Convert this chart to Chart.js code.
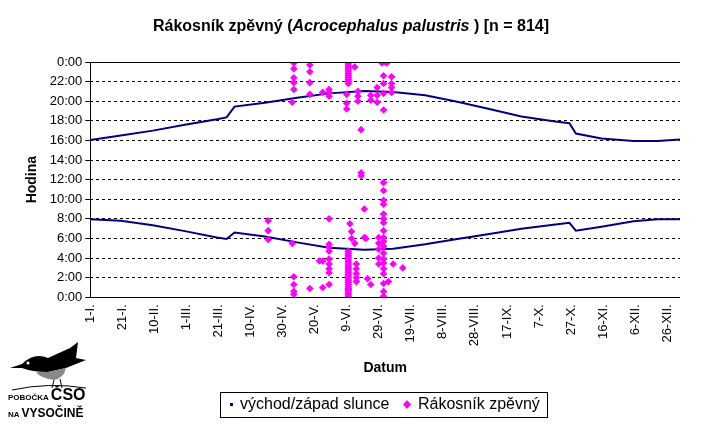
<!DOCTYPE html>
<html><head><meta charset="utf-8">
<script src="https://cdn.jsdelivr.net/npm/chart.js@4"></script>
<style>body{margin:0;background:#fff;font-family:"Liberation Sans",Arial,sans-serif}
#w{position:relative;width:702px;height:424px}
#logo{position:absolute;left:8px;top:338px;width:80px;height:54px}
#lt{position:absolute;left:8px;top:388px;font-weight:bold;line-height:14px;color:#000;white-space:nowrap}
</style></head><body>
<div id="w"><canvas id="c" width="702" height="424"></canvas>
<canvas id="logo" width="80" height="54"></canvas>
<div id="lt"><span style="font-size:8px">POBOČKA </span><span style="font-size:16px">ČSO</span><br><span style="font-size:8px">NA </span><span style="font-size:12px">VYSOČINĚ</span></div>
</div>
<script>
const xTickDays=[1,21,41,61,81,101,121,141,161,181,201,221,241,261,281,301,321,341,361];
const xTickLabels=["1-I.","21-I.","10-II.","1-III.","21-III.","10-IV.","30-IV.","20-V.","9-VI.","29-VI.","19-VII.","8-VIII.","28-VIII.","17-IX.","7-X.","27-X.","16-XI.","6-XII.","26-XII."];
const sunsetDays=[1,20,40,60,80,86,91,110,130,150,172,190,210,230,250,270,290,300,304,320,340,355,369];
const sunsetHours=[16.05,16.5,17.0,17.6,18.15,18.35,19.45,19.85,20.35,20.8,21.05,20.95,20.6,19.95,19.2,18.45,17.95,17.75,16.7,16.2,15.95,15.95,16.1];
const sunriseDays=[1,20,40,60,80,86,91,110,130,150,172,190,210,230,250,270,290,300,304,320,340,355,369];
const sunriseHours=[7.95,7.8,7.35,6.75,6.1,5.95,6.6,6.2,5.6,5.05,4.85,4.95,5.4,5.95,6.45,7.0,7.4,7.6,6.8,7.2,7.75,7.95,7.95];
const birdDays=[112,112,112,128,128,128,128,128,127,128,128,128,128,127,138,138,138,138,138,146,146,146,144,150,150,150,150,150,150,150,150,150,150,150,150,
162,162,162,162,162,162,162,162,162,162,162,162,162,161,161,161,
162,162,162,162,162,162,162,162,162,162,162,162,162,162,162,162,162,162,162,162,162,162,162,162,
163,164,164,166,167,167,167,167,167,166,168,168,168,170,170,170,172,172,173,176,176,174,176,180,180,180,183,184,
184,184,184,184,184,184,184,184,184,184,184,184,184,184,184,184,184,184,184,184,184,184,181,181,181,181,181,
189,189,189,189,190,187,196,185,186];
const birdHours=[7.8,6.8,5.9,23.9,23.3,22.4,21.9,21.2,19.9,2.1,1.3,0.6,0.3,5.5,23.7,23.0,21.9,20.7,0.9,20.9,3.7,1.0,3.7,21.2,20.9,20.5,8.0,5.4,5.1,4.7,3.9,3.4,2.9,2.5,1.3,0.8,
24,23.8,23.6,23.4,23.2,23.0,22.8,22.6,22.4,22.2,22.0,21.8,20.7,19.8,19.2,
4.7,4.5,4.3,4.1,3.9,3.7,3.5,3.3,3.1,2.9,2.7,2.5,2.3,2.1,1.9,1.7,1.5,1.3,1.1,0.9,0.7,0.5,0.3,0.1,
7.5,6.7,6.0,5.5,3.4,2.9,2.4,2.0,1.6,23.5,21.0,20.5,20.0,17.1,12.7,12.4,9.0,6.1,6.0,20.1,20.6,1.9,1.3,21.4,20.6,19.9,23.9,22.6,
21.8,20.8,19.1,11.7,10.9,9.9,9.5,8.5,8.0,7.6,6.8,6.1,5.7,5.2,4.5,3.9,3.5,2.9,2.4,1.4,0.6,0.1,6.1,5.5,4.9,4.0,3.4,
22.5,21.8,21.4,20.9,3.4,1.6,3.0,24,23.9];
const legendLabels=['východ/západ slunce','Rákosník zpěvný'];
const toXY=(d,h)=>d.map((v,i)=>({x:v,y:h[i]}));
const FONT='"Liberation Sans", Arial, sans-serif';
const deco={id:'deco',afterDraw(ch){const g=ch.ctx,a=ch.chartArea;g.save();
 g.strokeStyle='#000';g.lineWidth=1;g.beginPath();
 g.moveTo(Math.round(a.left)+0.5,a.top);g.lineTo(Math.round(a.left)+0.5,a.bottom);
 g.moveTo(a.left,Math.round(a.bottom)+0.5);g.lineTo(a.right,Math.round(a.bottom)+0.5);
 g.moveTo(a.left,Math.round(a.top)+0.5);g.lineTo(a.right,Math.round(a.top)+0.5);g.stroke();
 g.strokeRect(220.5,392.5,327,25);
 g.font='16px '+FONT;g.textBaseline='middle';
 g.fillStyle='#000080';g.fillRect(230,403,3,3);
 g.fillStyle='#000';g.fillText(legendLabels[0],240,405);
 const d=ch.data.datasets[2];g.fillStyle=d.backgroundColor;g.beginPath();g.moveTo(407,400);g.lineTo(411,404.5);g.lineTo(407,409);g.lineTo(403,404.5);g.fill();
 g.fillStyle='#000';g.fillText(legendLabels[1],418,405);
 const parts=[['Rákosník zpěvný (','bold '],['Acrocephalus palustris','italic bold '],[' ) [n = 814]','bold ']];
 let tw=0;parts.forEach(p=>{g.font=p[1]+'16px '+FONT;tw+=g.measureText(p[0]).width;});
 let x=351-tw/2;g.fillStyle='#000';
 parts.forEach(p=>{g.font=p[1]+'16px '+FONT;g.fillText(p[0],x,27);x+=g.measureText(p[0]).width;});
 g.restore();}};
new Chart(document.getElementById('c'),{
 type:'scatter',
 data:{datasets:[
  {label:'východ/západ slunce',data:toXY(sunsetDays,sunsetHours),showLine:true,borderColor:'#000080',borderWidth:2,pointRadius:0,tension:0,order:2},
  {label:'_rise',data:toXY(sunriseDays,sunriseHours),showLine:true,borderColor:'#000080',borderWidth:2,pointRadius:0,tension:0,order:2},
  {label:'Rákosník zpěvný',data:toXY(birdDays,birdHours),pointStyle:'rectRot',pointRadius:3.8,backgroundColor:'#ff00ff',borderColor:'#ff00ff',borderWidth:0,order:1}
 ]},
 options:{animation:false,responsive:false,
  layout:{padding:{left:20,right:22,top:62,bottom:39}},
  plugins:{title:{display:false},legend:{display:false},tooltip:{enabled:false}},
  scales:{
   x:{type:'linear',min:1,max:369,
    afterBuildTicks:s=>{s.ticks=xTickDays.map(v=>({value:v}));},
    ticks:{autoSkip:false,maxRotation:90,minRotation:90,color:'#000',font:{family:'Liberation Sans',size:13},padding:2,
     callback:v=>xTickLabels[xTickDays.indexOf(v)]},
    grid:{display:false,drawTicks:true,tickLength:5,tickColor:'#000'},border:{display:false},
    title:{display:true,text:'Datum',color:'#000',font:{family:'Liberation Sans',size:14,weight:'bold'},padding:{top:12,bottom:8}}},
   y:{min:0,max:24,
    ticks:{stepSize:2,color:'#000',font:{family:'Liberation Sans',size:13},callback:v=>(v%24)+':00'},
    grid:{color:'#000',tickColor:'#000',tickLength:5,drawTicks:true},border:{display:false,dash:[3,3]},
    title:{display:true,text:'Hodina',color:'#000',font:{family:'Liberation Sans',size:14,weight:'bold'},padding:{bottom:6}}}
  }},
 plugins:[deco]
});
const lg=document.getElementById('logo').getContext('2d');
lg.fillStyle='#000';lg.beginPath();lg.moveTo(2,30);lg.lineTo(14,26);lg.quadraticCurveTo(26,14,40,20);lg.lineTo(62,10);lg.lineTo(70,4);lg.lineTo(68,20);lg.lineTo(78,22);lg.lineTo(58,30);lg.lineTo(40,34);lg.quadraticCurveTo(24,34,14,30);lg.closePath();lg.fill();
lg.fillStyle='#888';lg.beginPath();lg.moveTo(40,34);lg.lineTo(58,30);lg.quadraticCurveTo(56,40,46,42);lg.quadraticCurveTo(32,40,28,34);lg.closePath();lg.fill();
lg.fillStyle='#fff';lg.beginPath();lg.arc(20,25,1.5,0,7);lg.fill();
lg.strokeStyle='#000';lg.lineWidth=1;lg.beginPath();lg.moveTo(46,42);lg.lineTo(44,50);lg.moveTo(52,41);lg.lineTo(54,50);lg.moveTo(4,52);lg.quadraticCurveTo(40,44,78,50);lg.stroke();
</script></body></html>
